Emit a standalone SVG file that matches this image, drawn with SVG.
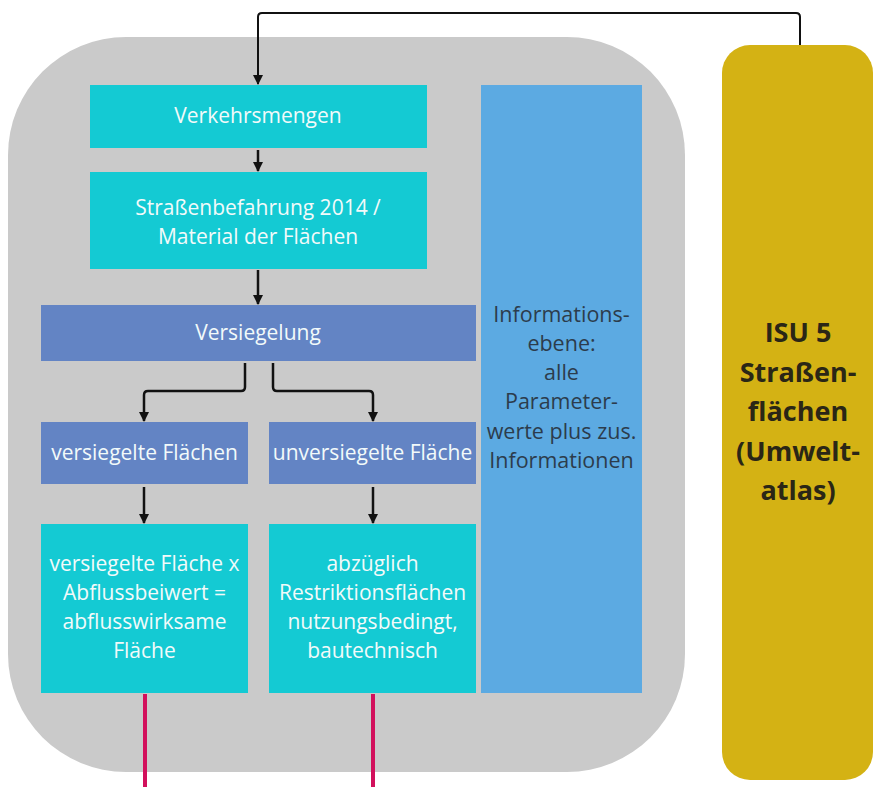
<svg xmlns="http://www.w3.org/2000/svg" width="874" height="787" viewBox="0 0 874 787">
  <defs>
    <marker id="arrow" viewBox="0 0 10 10" refX="9" refY="5" markerWidth="12" markerHeight="10" markerUnits="userSpaceOnUse" orient="auto">
      <path d="M0,0 L10,5 L0,10 z" fill="#111"/>
    </marker>
    <style>
      .lbl { font-family: "Open Sans", "Liberation Sans", sans-serif; font-size: 21px; fill: #f2fafa; text-anchor: middle; }
      .info { font-family: "Open Sans", "Liberation Sans", sans-serif; font-size: 21.5px; fill: #2c3c4c; text-anchor: middle; }
      .isu { font-family: "Open Sans", "Liberation Sans", sans-serif; font-size: 27px; font-weight: bold; fill: #2a2616; text-anchor: middle; }
      .cyan { fill: #14cad3; }
      .steel { fill: #6384c4; }
      .flow { fill: none; stroke: #111; stroke-width: 2.5; marker-end: url(#arrow); }
      .feed { fill: none; stroke: #111; stroke-width: 2; marker-end: url(#arrow); }
      .out { fill: none; stroke: #d2105c; stroke-width: 4; }
    </style>
  </defs>

  <rect width="874" height="787" fill="#ffffff"/>

  <!-- grey container -->
  <g id="container">
    <rect x="8" y="37" width="677" height="735" rx="118" ry="118" fill="#cacaca"/>
  </g>

  <g id="verkehrsmengen">
    <rect class="cyan" x="90" y="85" width="337" height="63"/>
    <text class="lbl" x="258" y="123">Verkehrsmengen</text>
  </g>

  <g id="strassenbefahrung">
    <rect class="cyan" x="90" y="172" width="337" height="97"/>
    <text class="lbl" x="258" y="215">Straßenbefahrung 2014 /</text>
    <text class="lbl" x="258" y="244">Material der Flächen</text>
  </g>

  <g id="versiegelung">
    <rect class="steel" x="41" y="305" width="435" height="56"/>
    <text class="lbl" x="258" y="340">Versiegelung</text>
  </g>

  <g id="versiegelte-flaechen">
    <rect class="steel" x="41" y="422" width="207" height="62"/>
    <text class="lbl" x="144.5" y="460">versiegelte Flächen</text>
  </g>

  <g id="unversiegelte-flaeche">
    <rect class="steel" x="269" y="422" width="207" height="62"/>
    <text class="lbl" x="372.5" y="460">unversiegelte Fläche</text>
  </g>

  <g id="abflusswirksame-flaeche">
    <rect class="cyan" x="41" y="524" width="207" height="169"/>
    <text class="lbl" x="144.5" y="571">versiegelte Fläche x</text>
    <text class="lbl" x="144.5" y="600">Abflussbeiwert =</text>
    <text class="lbl" x="144.5" y="629">abflusswirksame</text>
    <text class="lbl" x="144.5" y="658">Fläche</text>
  </g>

  <g id="restriktionsflaechen">
    <rect class="cyan" x="269" y="524" width="207" height="169"/>
    <text class="lbl" x="372.5" y="571">abzüglich</text>
    <text class="lbl" x="372.5" y="600">Restriktionsflächen</text>
    <text class="lbl" x="372.5" y="629">nutzungsbedingt,</text>
    <text class="lbl" x="372.5" y="658">bautechnisch</text>
  </g>

  <g id="informationsebene">
    <rect x="481" y="85" width="161" height="608" fill="#5caae2"/>
    <text class="info" x="561.5" y="322">Informations-</text>
    <text class="info" x="561.5" y="351">ebene:</text>
    <text class="info" x="561.5" y="380">alle</text>
    <text class="info" x="561.5" y="409">Parameter-</text>
    <text class="info" x="561.5" y="439">werte plus zus.</text>
    <text class="info" x="561.5" y="468">Informationen</text>
  </g>

  <g id="isu5">
    <rect x="722" y="45" width="151" height="735" rx="28" ry="28" fill="#d4b214"/>
    <text class="isu" x="798" y="342">ISU 5</text>
    <text class="isu" x="798" y="382">Straßen-</text>
    <text class="isu" x="798" y="421">flächen</text>
    <text class="isu" x="798" y="461">(Umwelt-</text>
    <text class="isu" x="798" y="500">atlas)</text>
  </g>

  <!-- connectors -->
  <g id="connectors">
    <path class="feed" d="M800,45 V17 Q800,13 796,13 H262 Q258,13 258,17 V84"/>
    <path class="flow" d="M258,150 V171"/>
    <path class="flow" d="M258,270 V304"/>
    <path class="flow" d="M245,363 V387 Q245,391 241,391 H148 Q144,391 144,395 V421"/>
    <path class="flow" d="M273,363 V387 Q273,391 277,391 H369 Q373,391 373,395 V421"/>
    <path class="flow" d="M144,487 V523"/>
    <path class="flow" d="M373,487 V523"/>
    <path class="out" d="M145,694 V787"/>
    <path class="out" d="M373,694 V787"/>
  </g>
</svg>
